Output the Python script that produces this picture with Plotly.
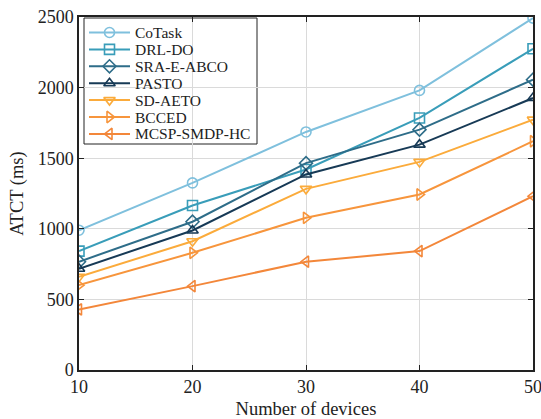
import plotly.graph_objects as go

devices = [10, 20, 30, 40, 50]

cotask = [990, 1325, 1686, 1980, 2492]
drl_do = [842, 1165, 1420, 1785, 2275]
sra_e_abco = [767, 1050, 1465, 1702, 2056]
pasto = [717, 988, 1385, 1596, 1926]
sd_aeto = [660, 912, 1283, 1474, 1773]
bcced = [601, 830, 1078, 1243, 1620]
mcsp_smdp_hc = [429, 594, 767, 842, 1231]

series = [
    ("CoTask", cotask, "#7fc0dd", "circle-open"),
    ("DRL-DO", drl_do, "#399db9", "square-open"),
    ("SRA-E-ABCO", sra_e_abco, "#2e6d89", "diamond-open"),
    ("PASTO", pasto, "#173a56", "triangle-up-open"),
    ("SD-AETO", sd_aeto, "#fbab3b", "triangle-down-open"),
    ("BCCED", bcced, "#f7953c", "triangle-right-open"),
    ("MCSP-SMDP-HC", mcsp_smdp_hc, "#f3873a", "triangle-left-open"),
]

font_family = "Liberation Serif, Times New Roman, serif"
ink = "#222222"

# Figure and plot-area geometry in pixels
W, H = 541, 419
M_L, M_R, M_T, M_B = 79, 8, 17, 49
PW, PH = W - M_L - M_R, H - M_T - M_B


def px_x(x):
    return (x - M_L) / PW


def px_y(y):
    return (H - M_B - y) / PH


fig = go.Figure()
for name, vals, color, sym in series:
    fig.add_trace(go.Scatter(
        x=devices, y=vals, name=name, mode="lines+markers",
        line=dict(color=color, width=2),
        marker=dict(symbol=sym, size=10, color=color, line=dict(width=1.6, color=color)),
        showlegend=False,
    ))

# Compact legend box in the upper-left corner of the axes
box_x0, box_x1, box_y0, box_y1 = 84, 257, 18, 144
row_y0, row_dy = 32.5, 16.9
sample_x0, sample_x1, text_x = 89, 130, 133

shapes = [dict(
    type="rect", xref="paper", yref="paper", layer="between",
    x0=px_x(box_x0), x1=px_x(box_x1), y0=px_y(box_y1), y1=px_y(box_y0),
    fillcolor="white", line=dict(color=ink, width=1),
)]
annotations = []
for i, (name, vals, color, sym) in enumerate(series):
    ry = row_y0 + i * row_dy
    shapes.append(dict(
        type="line", xref="paper", yref="paper", layer="between",
        x0=px_x(sample_x0), x1=px_x(sample_x1), y0=px_y(ry), y1=px_y(ry),
        line=dict(color=color, width=2),
    ))
    annotations.append(dict(
        x=px_x(text_x), y=px_y(ry), xref="paper", yref="paper",
        text=name, showarrow=False, xanchor="left", yanchor="middle",
        font=dict(family=font_family, size=15.5, color=ink),
    ))
    fig.add_trace(go.Scatter(
        x=[px_x((sample_x0 + sample_x1) / 2)], y=[px_y(ry)],
        xaxis="x2", yaxis="y2", mode="markers", showlegend=False,
        marker=dict(symbol=sym, size=10, color=color, line=dict(width=1.6, color=color)),
        hoverinfo="skip",
    ))

axis_common = dict(
    showgrid=True, gridcolor="#dadada", gridwidth=1,
    showline=True, linecolor=ink, linewidth=1.5, mirror="ticks",
    ticks="inside", ticklen=5, tickcolor=ink,
    zeroline=False, automargin=False, ticklabeloverflow="allow",
    tickfont=dict(family=font_family, size=18, color=ink),
)

fig.update_layout(
    width=W, height=H,
    margin=dict(l=M_L, r=M_R, t=M_T, b=M_B),
    paper_bgcolor="white", plot_bgcolor="white",
    font=dict(family=font_family, color=ink),
    showlegend=False,
    shapes=shapes,
    annotations=annotations,
    xaxis=dict(
        range=[10, 50], tickvals=[10, 20, 30, 40, 50],
        title=dict(text="Number of devices", font=dict(family=font_family, size=18.5, color=ink), standoff=8),
        **axis_common,
    ),
    yaxis=dict(
        range=[0, 2500], tickvals=[0, 500, 1000, 1500, 2000, 2500],
        title=dict(text="ATCT (ms)", font=dict(family=font_family, size=18.5, color=ink), standoff=9),
        **axis_common,
    ),
    xaxis2=dict(overlaying="x", range=[0, 1], visible=False, fixedrange=True),
    yaxis2=dict(overlaying="y", range=[0, 1], visible=False, fixedrange=True),
)

fig.write_html("out.html")
